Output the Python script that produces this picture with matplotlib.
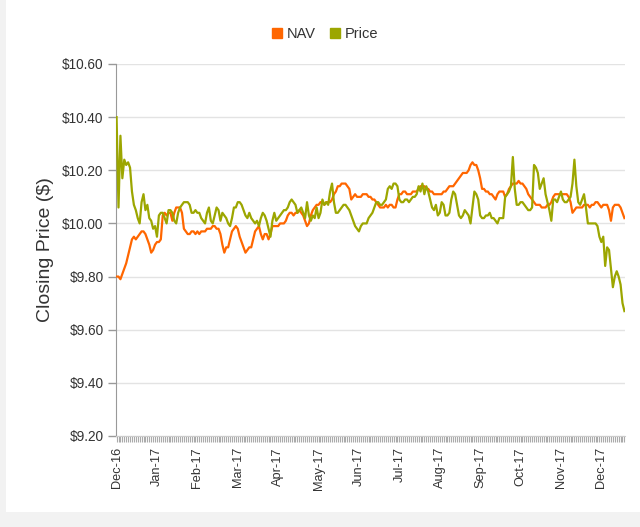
import matplotlib
matplotlib.use('Agg')
import matplotlib.pyplot as plt
from matplotlib.patches import Rectangle
from matplotlib.lines import Line2D

plt.rcParams['font.family'] = ['Liberation Sans', 'DejaVu Sans']

# month labels, one every 21 trading days
months = ['Dec-16', 'Jan-17', 'Feb-17', 'Mar-17', 'Apr-17', 'May-17', 'Jun-17',
          'Jul-17', 'Aug-17', 'Sep-17', 'Oct-17', 'Nov-17', 'Dec-17']
label_step = 21

yticks = [9.20, 9.40, 9.60, 9.80, 10.00, 10.20, 10.40, 10.60]

# daily closing NAV
nav = [
    9.80, 9.80, 9.79, 9.81, 9.83, 9.85, 9.88, 9.91, 9.94, 9.95,
    9.94, 9.95, 9.96, 9.97, 9.97, 9.96, 9.94, 9.92, 9.89, 9.90,
    9.92, 9.93, 9.93, 9.94, 10.03, 10.04, 10.03, 10.04, 10.04, 10.01,
    10.04, 10.06, 10.06, 10.06, 10.04, 9.98, 9.97, 9.96, 9.96, 9.97,
    9.97, 9.96, 9.97, 9.96, 9.97, 9.97, 9.97, 9.98, 9.98, 9.98,
    9.99, 9.99, 9.98, 9.98, 9.96, 9.92, 9.89, 9.91, 9.91, 9.94,
    9.97, 9.98, 9.99, 9.98, 9.95, 9.93, 9.91, 9.89, 9.90, 9.91,
    9.91, 9.94, 9.97, 9.98, 9.99, 9.96, 9.94, 9.96, 9.96, 9.94,
    9.96, 9.99, 9.99, 9.99, 9.99, 10.00, 10.00, 10.00, 10.01, 10.03,
    10.04, 10.04, 10.03, 10.04, 10.04, 10.05, 10.04, 10.03, 10.01, 9.99,
    10.00, 10.03, 10.05, 10.06, 10.07, 10.07, 10.08, 10.08, 10.07, 10.08,
    10.08, 10.08, 10.09, 10.11, 10.12, 10.14, 10.14, 10.15, 10.15, 10.15,
    10.14, 10.13, 10.09, 10.10, 10.11, 10.10, 10.10, 10.10,
    10.11, 10.11, 10.11, 10.10, 10.10, 10.09, 10.09, 10.08, 10.07, 10.06,
    10.06, 10.06, 10.07, 10.06, 10.07, 10.07, 10.06, 10.06, 10.09, 10.11,
    10.11, 10.12, 10.12, 10.11, 10.11, 10.11, 10.12, 10.12, 10.12, 10.13,
    10.14, 10.14, 10.14, 10.13, 10.13, 10.12, 10.12, 10.11, 10.11, 10.11,
    10.11, 10.11, 10.12, 10.12, 10.13, 10.14, 10.14, 10.14, 10.15, 10.16,
    10.17, 10.18,
    10.19, 10.19, 10.19, 10.20, 10.22, 10.23, 10.22, 10.22, 10.20, 10.17,
    10.13, 10.13, 10.12, 10.12, 10.11, 10.11, 10.10, 10.09, 10.11, 10.12,
    10.12, 10.12, 10.10, 10.11, 10.13, 10.14, 10.15, 10.15, 10.15, 10.16,
    10.15, 10.15, 10.14, 10.13, 10.11, 10.10, 10.09, 10.08, 10.07, 10.07,
    10.07, 10.06, 10.06, 10.06, 10.07, 10.07, 10.08, 10.10, 10.11, 10.11,
    10.11, 10.11, 10.11, 10.11, 10.11, 10.10, 10.08, 10.04, 10.05, 10.06,
    10.06, 10.06, 10.06, 10.07, 10.07, 10.07, 10.06, 10.07, 10.07, 10.08,
    10.08, 10.07, 10.06, 10.07, 10.07, 10.07, 10.05, 10.01, 10.06, 10.07,
    10.07, 10.07, 10.06, 10.04, 10.02,
]

# daily closing market price
price = [
    10.40, 10.06, 10.33, 10.17, 10.24, 10.22, 10.23, 10.21, 10.12, 10.07,
    10.05, 10.02, 10.00, 10.08, 10.11, 10.05, 10.07, 10.02, 10.01, 9.98,
    9.99, 9.95, 10.03, 10.04, 10.04, 10.02, 10.00, 10.05, 10.05, 10.04,
    10.01, 10.00, 10.04, 10.06, 10.07, 10.08, 10.08, 10.08, 10.07, 10.04,
    10.04, 10.05, 10.04, 10.04, 10.02, 10.01, 10.00, 10.04, 10.06, 10.01,
    10.00, 10.03, 10.06, 10.05, 10.01, 10.04, 10.03, 10.02, 10.00, 9.99,
    10.02, 10.06, 10.06, 10.08, 10.08, 10.07, 10.05, 10.03, 10.02, 10.04,
    10.02, 10.01, 10.00, 10.01, 9.99, 10.02, 10.04, 10.03, 10.01, 9.98,
    9.95, 10.01, 10.04, 10.01, 10.02, 10.03, 10.04, 10.05, 10.05, 10.06,
    10.08, 10.09, 10.08, 10.07, 10.04, 10.05, 10.06, 10.04, 10.02, 10.08,
    10.03, 10.01, 10.03, 10.02, 10.06, 10.02, 10.04, 10.09, 10.07, 10.08,
    10.07, 10.12, 10.15, 10.08, 10.04, 10.04, 10.05, 10.06, 10.07, 10.07,
    10.06, 10.05, 10.03, 10.01, 9.99, 9.98, 9.97, 9.99,
    10.00, 10.00, 10.00, 10.02, 10.03, 10.04, 10.06, 10.08, 10.08, 10.07,
    10.07, 10.08, 10.09, 10.13, 10.14, 10.13, 10.15, 10.15, 10.14, 10.09,
    10.08, 10.08, 10.09, 10.09, 10.08, 10.09, 10.10, 10.10, 10.11, 10.14,
    10.12, 10.15, 10.11, 10.14, 10.12, 10.09, 10.06, 10.05, 10.07, 10.03,
    10.04, 10.08, 10.07, 10.03, 10.03, 10.04, 10.09, 10.12, 10.11, 10.07,
    10.03, 10.02,
    10.03, 10.05, 10.04, 10.03, 10.00, 10.06, 10.12, 10.11, 10.09, 10.03,
    10.02, 10.02, 10.03, 10.03, 10.04, 10.02, 10.02, 10.01, 10.00, 10.02,
    10.02, 10.02, 10.10, 10.11, 10.12, 10.14, 10.25, 10.13, 10.07, 10.07,
    10.08, 10.08, 10.07, 10.06, 10.05, 10.05, 10.06, 10.22, 10.21, 10.19,
    10.13, 10.15, 10.17, 10.11, 10.08, 10.05, 10.01, 10.09, 10.09, 10.08,
    10.10, 10.12, 10.09, 10.08, 10.08, 10.09, 10.10, 10.15, 10.24, 10.14,
    10.08, 10.07, 10.09, 10.11, 10.06, 10.00, 10.00, 10.00, 10.00, 10.00,
    9.99, 9.95, 9.93, 9.95, 9.84, 9.91, 9.90, 9.83, 9.76, 9.80,
    9.82, 9.80, 9.77, 9.70, 9.67,
]

nav_color = '#ff6600'
price_color = '#9ca600'

W, H = 640, 527
fig = plt.figure(figsize=(W / 100, H / 100), dpi=100)
fig.patch.set_facecolor('#f2f2f2')
# white chart panel on the grey page
fig.patches.append(Rectangle((6 / W, 15 / H), 1 - 6 / W, 1 - 15 / H,
                             transform=fig.transFigure, facecolor='white',
                             edgecolor='none', zorder=-10))

ax = fig.add_axes([116 / W, 1 - 436 / H, 509 / W, 372 / H])
ax.set_zorder(1)
ax.set_facecolor('white')

x = list(range(len(nav)))
ax.plot(x, nav, color=nav_color, lw=1.6, zorder=3)
ax.plot(range(len(price)), price, color=price_color, lw=1.6, zorder=4)

ax.set_xlim(-0.3, len(nav) - 1 + 0.3)
ax.set_ylim(9.2, 10.6)

# y axis
ax.set_yticks(yticks)
ax.set_yticklabels(['${:.2f}'.format(v) for v in yticks], fontsize=9.8, color='#333333')
ax.tick_params(axis='y', length=6, width=1, color='#999999', pad=3)
ax.grid(axis='y', color='#e3e3e3', lw=1)
ax.set_axisbelow(True)
ax.set_ylabel('Closing Price ($)', fontsize=14, color='#333333', labelpad=6)

# x axis: one tick per day, label each month
ax.set_xticks(list(range(0, len(nav), label_step)))
ax.set_xticklabels(months, rotation=90, fontsize=9.2, color='#333333')
ax.set_xticks(x, minor=True)
ax.tick_params(axis='x', which='both', length=4, width=0.8, color='#aaaaaa', pad=4)

for s in ['top', 'right']:
    ax.spines[s].set_visible(False)
ax.spines['left'].set_color('#999999')
ax.spines['bottom'].set_color('#cccccc')

handles = [Line2D([], [], marker='s', ls='none', color=nav_color, markersize=7.5),
           Line2D([], [], marker='s', ls='none', color=price_color, markersize=7.5)]
fig.legend(handles, ['NAV', 'Price'], loc='center', bbox_to_anchor=(324 / W, 1 - 34 / H),
           ncol=2, frameon=False, fontsize=10.5, handletextpad=0.2, columnspacing=0.8,
           handlelength=1.0, labelcolor='#333333')

fig.savefig('out.png', dpi=100, facecolor=fig.get_facecolor())
